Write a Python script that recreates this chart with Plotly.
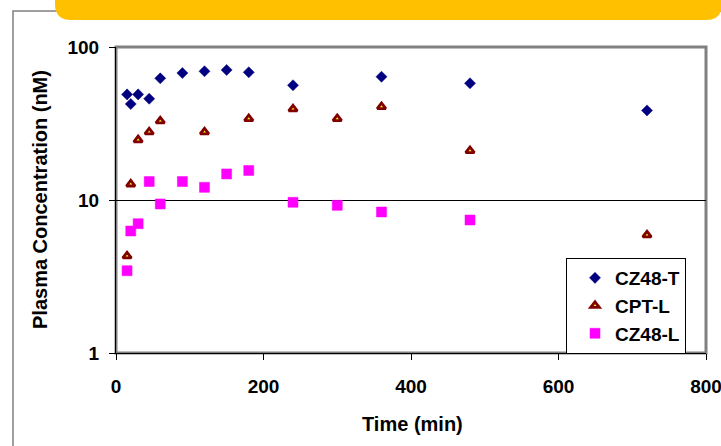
import plotly.graph_objects as go

# Sampling times (min) and plasma concentrations (nM)
t_cz48_t = [15, 20, 30, 45, 60, 90, 120, 150, 180, 240, 360, 480, 720]
c_cz48_t = [49, 42.4, 49, 45.9, 62.4, 67.6, 69.4, 70.8, 68.3, 56.2, 63.9, 57.9, 38.5]

t_cpt_l = [15, 20, 30, 45, 60, 120, 180, 240, 300, 360, 480, 720]
c_cpt_l = [4.3, 12.7, 24.7, 27.8, 32.8, 27.8, 34.0, 39.3, 34.0, 40.7, 21.0, 5.9]

t_cz48_l = [15, 20, 30, 45, 60, 90, 120, 150, 180, 240, 300, 360, 480]
c_cz48_l = [3.45, 6.27, 7.0, 13.2, 9.42, 13.2, 12.1, 14.8, 15.6, 9.66, 9.23, 8.35, 7.4]

x_ticks = [0, 200, 400, 600, 800]
y_ticks = [1, 10, 100]

W, H = 721, 446
ML, MR, MT, MB = 116, 15, 47, 93
PW, PH = W - ML - MR, H - MT - MB


def px(x):
    return (x - ML) / PW


def py(y):
    return (H - MB - y) / PH


FONT = "Arial, Liberation Sans, sans-serif"
bold = dict(family=FONT, color="black", weight="bold")

fig = go.Figure()
fig.add_trace(go.Scatter(
    x=t_cz48_t, y=c_cz48_t, mode="markers", name="CZ48-T",
    marker=dict(symbol="diamond", size=8.5, color="#000080",
                line=dict(width=0.5, color="#000080"))))
fig.add_trace(go.Scatter(
    x=t_cpt_l, y=c_cpt_l, mode="markers", name="CPT-L",
    marker=dict(symbol="triangle-up", size=7.5, color="#FFFF00",
                line=dict(width=2.8, color="#800000"))))
fig.add_trace(go.Scatter(
    x=t_cz48_l, y=c_cz48_l, mode="markers", name="CZ48-L",
    marker=dict(symbol="square", size=10, color="#FF00FF",
                line=dict(width=0.5, color="#FF00FF"))))

# rounded banner strip along the top edge
bx0, bx1, by0, by1, r = 55, 722, -10, 20, 16
banner = (f"M {px(bx0)} {py(by0)} L {px(bx0)} {py(by1 - r)} "
          f"Q {px(bx0)} {py(by1)} {px(bx0 + r)} {py(by1)} "
          f"L {px(bx1 - r)} {py(by1)} "
          f"Q {px(bx1)} {py(by1)} {px(bx1)} {py(by1 - r)} "
          f"L {px(bx1)} {py(by0)} Z")

shapes = [
    # outer chart frame
    dict(type="rect", xref="paper", yref="paper", layer="below",
         x0=px(13), x1=px(740), y0=py(470), y1=py(11),
         line=dict(color="#808080", width=1.5), fillcolor="white"),
    dict(type="path", xref="paper", yref="paper", path=banner,
         line=dict(width=0), fillcolor="#FFC000"),
    # plot-area border
    dict(type="rect", xref="paper", yref="paper", layer="below",
         x0=0, x1=1, y0=0, y1=1,
         line=dict(color="#808080", width=3)),
]

fig.update_layout(
    width=W, height=H,
    margin=dict(l=ML, r=MR, t=MT, b=MB, autoexpand=False),
    paper_bgcolor="white", plot_bgcolor="white",
    shapes=shapes,
    showlegend=True,
    legend=dict(x=px(566), y=py(258), xanchor="left", yanchor="top",
                bgcolor="white", bordercolor="black", borderwidth=1,
                font=dict(size=19, **bold), indentation=8,
                itemsizing="trace"),
    annotations=[
        dict(text="Time (min)", xref="paper", yref="paper",
             x=px(412), y=py(424), xanchor="center", yanchor="middle",
             showarrow=False, font=dict(size=20, **bold)),
        dict(text="Plasma Concentration (nM)", xref="paper", yref="paper",
             x=px(40), y=py(200), xanchor="center", yanchor="middle",
             textangle=-90, showarrow=False, font=dict(size=20, **bold)),
    ],
)

fig.update_xaxes(
    range=[0, 800], tickvals=x_ticks, ticktext=[str(v) for v in x_ticks],
    showgrid=False, zeroline=False, automargin=False,
    showline=True, linecolor="black", linewidth=1,
    ticks="outside", ticklen=6, tickcolor="black",
    ticklabelstandoff=10, ticklabeloverflow="allow",
    tickfont=dict(size=19, **bold),
)
fig.update_yaxes(
    type="log", range=[0, 2], tickvals=y_ticks,
    ticktext=[str(v) for v in y_ticks],
    showgrid=True, gridcolor="black", gridwidth=1,
    zeroline=False, showline=True, linecolor="black", linewidth=1,
    ticks="outside", ticklen=6, tickcolor="black", automargin=False,
    ticklabelstandoff=6,
    tickfont=dict(size=19, **bold),
)

fig.write_html("out.html")
